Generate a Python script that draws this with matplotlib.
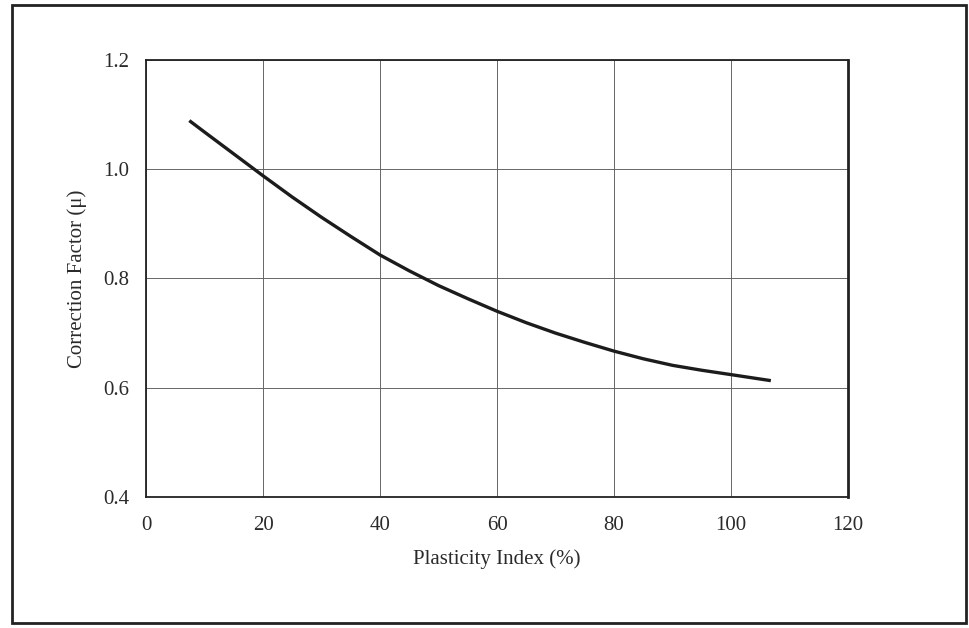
import matplotlib
matplotlib.use("Agg")
import matplotlib.pyplot as plt
from matplotlib.patches import Rectangle

# curve
plasticity_index = [7.4, 10, 15, 20, 25, 30, 35, 40, 45, 50, 55, 60, 65, 70, 75, 80, 85, 90, 95, 100, 106.8]
correction_factor = [1.089, 1.068, 1.028, 0.988, 0.949, 0.912, 0.877, 0.843, 0.814, 0.787, 0.763, 0.74, 0.719, 0.70, 0.683, 0.667, 0.653, 0.641, 0.632, 0.624, 0.613]

x_ticks = [0, 20, 40, 60, 80, 100, 120]
y_ticks = [0.4, 0.6, 0.8, 1.0, 1.2]
y_tick_labels = ["0.4", "0.6", "0.8", "1.0", "1.2"]

plt.rcParams['font.family'] = ['Liberation Serif', 'DejaVu Serif']

fig = plt.figure(figsize=(9.69, 6.28), dpi=100)
fig.patch.set_facecolor("white")

# outer frame around the whole figure
fig.patches.append(Rectangle((0.0124, 0.008), 0.9845, 0.984, transform=fig.transFigure,
                             fill=False, edgecolor="#222222", linewidth=2.0))

ax = fig.add_axes([0.1507, 0.2086, 0.7245, 0.6959])
ax.plot(plasticity_index, correction_factor, color="#1c1c1c", linewidth=2.4, solid_capstyle="butt")

ax.set_xlim(0, 120)
ax.set_ylim(0.4, 1.2)
ax.set_xticks(x_ticks)
ax.set_yticks(y_ticks)
ax.set_yticklabels(y_tick_labels)
ax.grid(True, color="#666666", linewidth=0.7)
ax.tick_params(axis="both", length=0, labelsize=15, colors="#2a2a2a")
ax.tick_params(axis="x", pad=14)
ax.tick_params(axis="y", pad=12)

for side in ax.spines.values():
    side.set_linewidth(1.3)
    side.set_color("#222222")
ax.spines["right"].set_linewidth(2.0)

ax.set_xlabel("Plasticity Index (%)", fontsize=15, color="#2a2a2a", labelpad=10)
ax.set_ylabel("Correction Factor (μ)", fontsize=15, color="#2a2a2a", labelpad=12)

fig.savefig("out.png", dpi=100, facecolor="white")
